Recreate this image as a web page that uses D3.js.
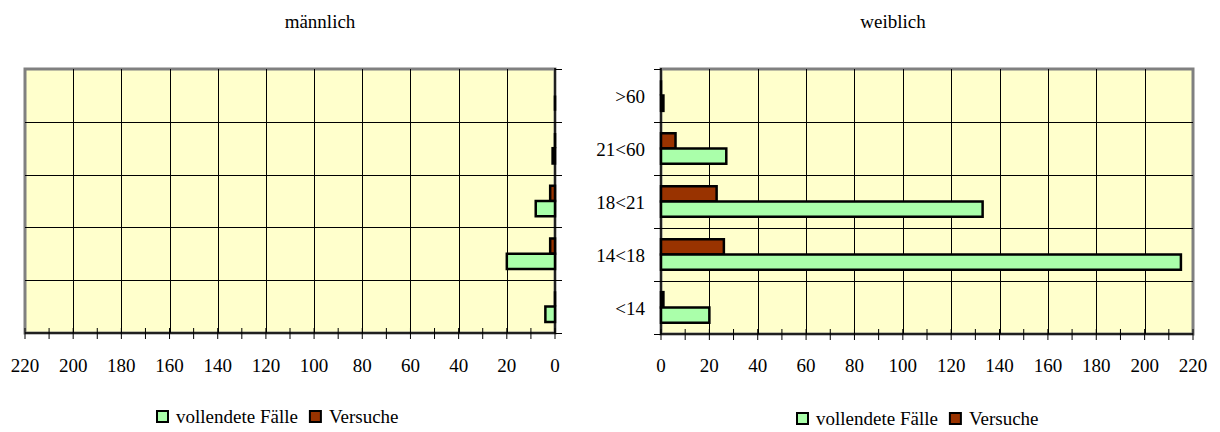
<!DOCTYPE html>
<html><head><meta charset="utf-8">
<script src="https://cdn.jsdelivr.net/npm/d3@7"></script>
<style>
body{margin:0;background:#fff}
svg{display:block}
svg text{font-family:"Liberation Serif" !important}
</style>
</head><body>
<script>
const categories = [">60", "21<60", "18<21", "14<18", "<14"];
const seriesNames = ["vollendete Fälle", "Versuche"];
const maleCompleted = [0, 1, 8, 20, 4];
const maleAttempts = [null, 0, 2, 2, 0];
const femaleCompleted = [1, 27, 133, 215, 20];
const femaleAttempts = [0, 6, 23, 26, 1];
const xTicks = [0, 20, 40, 60, 80, 100, 120, 140, 160, 180, 200, 220];
const minorTicks = d3.range(0, 221, 10);
const titles = ["männlich", "weiblich"];

const W = 1220, H = 432;
const svg = d3.select("body").append("svg").attr("width", W).attr("height", H);
const colors = {"vollendete Fälle": "#aaffaa", "Versuche": "#993300"};

function txt(sel) {
  return sel.attr("font-family", "Liberation Serif")
    .style("font-family", '"Liberation Serif"')
    .attr("font-size", 19).style("font-size", "19px");
}

function panel(opts) {
  const {x0, x1, y0, y1, reversed, completed, attempts, showCats, title, titleX, legendX, legendY} = opts;
  const x = d3.scaleLinear().domain([0, 220]).range(reversed ? [x1, x0] : [x0, x1]);
  const y = d3.scaleBand().domain(categories).range([y0, y1]).padding(0);
  const bw = y.bandwidth();
  const ys = d3.scaleBand().domain(["Versuche", "vollendete Fälle"]).range([bw * 0.21, bw * 0.79]).padding(0);

  svg.append("rect").attr("x", x0).attr("y", y0).attr("width", x1 - x0).attr("height", y1 - y0)
    .attr("fill", "#ffffcc").attr("stroke", "#808080").attr("stroke-width", 3);

  svg.append("g").selectAll("line").data(xTicks.filter(d => d > 0 && d < 220)).join("line")
    .attr("x1", d => Math.round(x(d)) + 0.5).attr("x2", d => Math.round(x(d)) + 0.5)
    .attr("y1", y0).attr("y2", y1).attr("stroke", "#000").attr("stroke-width", 1);
  svg.append("g").selectAll("line").data(categories.slice(1)).join("line")
    .attr("x1", x0).attr("x2", x1)
    .attr("y1", d => Math.round(y(d)) + 0.5).attr("y2", d => Math.round(y(d)) + 0.5)
    .attr("stroke", "#000").attr("stroke-width", 1);

  const rows = [];
  categories.forEach((c, i) => {
    rows.push({cat: c, s: "Versuche", v: attempts[i]});
    rows.push({cat: c, s: "vollendete Fälle", v: completed[i]});
  });
  svg.append("g").selectAll("path").data(rows.filter(d => d.v !== null)).join("path")
    .attr("d", d => {
      const xa = x(0), xb = x(d.v);
      const top = y(d.cat) + ys(d.s), h = ys.bandwidth();
      return `M${xa},${top}H${xb}V${top + h}H${xa}Z`;
    })
    .attr("fill", d => colors[d.s]).attr("stroke", "#000").attr("stroke-width", 2.5);

  const ax = x(0);
  svg.append("line").attr("x1", ax).attr("x2", ax).attr("y1", y0 - 1).attr("y2", y1)
    .attr("stroke", "#000").attr("stroke-width", 1.5);
  const bounds = categories.map(c => y(c)).concat([y1]);
  svg.append("g").selectAll("line").data(bounds).join("line")
    .attr("x1", ax).attr("x2", reversed ? ax + 7 : ax - 7)
    .attr("y1", d => Math.round(d) + 0.5).attr("y2", d => Math.round(d) + 0.5)
    .attr("stroke", "#000").attr("stroke-width", 1);

  svg.append("line").attr("x1", x0).attr("x2", x1).attr("y1", y1).attr("y2", y1)
    .attr("stroke", "#000").attr("stroke-width", 1.5);
  svg.append("g").selectAll("line").data(minorTicks).join("line")
    .attr("x1", d => x(d)).attr("x2", d => x(d)).attr("y1", y1 - 5).attr("y2", y1 + 6)
    .attr("stroke", "#000").attr("stroke-width", 1);

  xTicks.forEach(d => {
    txt(svg.append("text").attr("x", x(d)).attr("y", 372).attr("text-anchor", "middle")).text(String(d));
  });

  if (showCats) {
    categories.forEach(c => {
      txt(svg.append("text").attr("x", ax - 16).attr("y", y(c) + bw / 2 + 7).attr("text-anchor", "end")).text(c);
    });
  }

  txt(svg.append("text").attr("x", titleX).attr("y", 28).attr("text-anchor", "middle")).text(title);

  let lx = legendX;
  seriesNames.forEach(s => {
    svg.append("rect").attr("x", lx).attr("y", legendY - 12).attr("width", 11).attr("height", 11)
      .attr("fill", colors[s]).attr("stroke", "#000").attr("stroke-width", 2);
    const t = txt(svg.append("text").attr("x", lx + 19).attr("y", legendY)).text(s);
    lx += 19 + t.node().getComputedTextLength() + 12;
  });
}

panel({x0: 25, x1: 555, y0: 69, y1: 333, reversed: true,
  completed: maleCompleted, attempts: maleAttempts, showCats: false,
  title: titles[0], titleX: 320, legendX: 157, legendY: 423});
panel({x0: 661, x1: 1193, y0: 69, y1: 334, reversed: false,
  completed: femaleCompleted, attempts: femaleAttempts, showCats: true,
  title: titles[1], titleX: 893, legendX: 797, legendY: 425});
</script>
</body></html>
